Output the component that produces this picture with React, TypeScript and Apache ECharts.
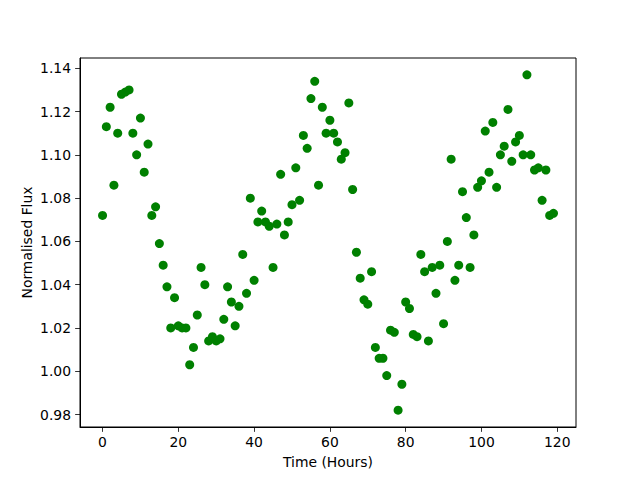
import React, { useEffect, useRef } from "react";
import * as echarts from "echarts";

const hours: number[] = Array.from({ length: 120 }, (_, i) => i);
const flux: number[] = [
  1.072, 1.113, 1.122, 1.086, 1.110, 1.128, 1.129, 1.130, 1.110, 1.100,
  1.117, 1.092, 1.105, 1.072, 1.076, 1.059, 1.049, 1.039, 1.020, 1.034,
  1.021, 1.020, 1.020, 1.003, 1.011, 1.026, 1.048, 1.040, 1.014, 1.016,
  1.014, 1.015, 1.024, 1.039, 1.032, 1.021, 1.030, 1.054, 1.036, 1.080,
  1.042, 1.069, 1.074, 1.069, 1.067, 1.048, 1.068, 1.091, 1.063, 1.069,
  1.077, 1.094, 1.079, 1.109, 1.103, 1.126, 1.134, 1.086, 1.122, 1.110,
  1.116, 1.110, 1.106, 1.098, 1.101, 1.124, 1.084, 1.055, 1.043, 1.033,
  1.031, 1.046, 1.011, 1.006, 1.006, 0.998, 1.019, 1.018, 0.982, 0.994,
  1.032, 1.029, 1.017, 1.016, 1.054, 1.046, 1.014, 1.048, 1.036, 1.049,
  1.022, 1.060, 1.098, 1.042, 1.049, 1.083, 1.071, 1.048, 1.063, 1.085,
  1.088, 1.111, 1.092, 1.115, 1.085, 1.100, 1.104, 1.121, 1.097, 1.106,
  1.109, 1.100, 1.137, 1.100, 1.093, 1.094, 1.079, 1.093, 1.072, 1.073,
];
const xTicks: number[] = [0, 20, 40, 60, 80, 100, 120];
const yTicks: number[] = [0.98, 1.0, 1.02, 1.04, 1.06, 1.08, 1.1, 1.12, 1.14];

const FONT = "DejaVu Sans";
const FS = 13.9;

export default function App() {
  const ref = useRef<HTMLDivElement>(null);
  useEffect(() => {
    if (!ref.current) return;
    const chart = echarts.init(ref.current, undefined, { renderer: "svg" });
    const data = hours.map((h, i) => [h, flux[i]]);
    chart.setOption({
      animation: false,
      backgroundColor: "#ffffff",
      grid: {
        left: 80,
        right: 64,
        top: 58,
        bottom: 53,
        show: true,
        borderColor: "#000",
        borderWidth: 1,
        containLabel: false,
      },
      xAxis: {
        type: "value",
        min: -5.95,
        max: 124.95,
        name: "Time (Hours)",
        nameLocation: "middle",
        nameGap: 28,
        nameMoveOverlap: false,
        nameTextStyle: { fontFamily: FONT, fontSize: FS, color: "#000" },
        axisLine: { show: true, onZero: false, lineStyle: { color: "#000", width: 1 } },
        axisTick: {
          show: true,
          length: 4.86,
          customValues: xTicks,
          lineStyle: { color: "#000", width: 0.8 },
        },
        axisLabel: {
          customValues: xTicks,
          margin: 8,
          fontFamily: FONT,
          fontSize: FS,
          color: "#000",
        },
        splitLine: { show: false },
      },
      yAxis: {
        type: "value",
        min: 0.97424,
        max: 1.14476,
        name: "Normalised Flux",
        nameLocation: "middle",
        nameGap: 46,
        nameMoveOverlap: false,
        nameRotate: 90,
        nameTextStyle: { fontFamily: FONT, fontSize: FS, color: "#000" },
        axisLine: { show: true, onZero: false, lineStyle: { color: "#000", width: 1 } },
        axisTick: {
          show: true,
          length: 4.86,
          customValues: yTicks,
          lineStyle: { color: "#000", width: 0.8 },
        },
        axisLabel: {
          customValues: yTicks,
          margin: 9,
          fontFamily: FONT,
          fontSize: FS,
          color: "#000",
          formatter: (v: number) => v.toFixed(2),
        },
        splitLine: { show: false },
      },
      series: [
        {
          type: "scatter",
          data,
          symbol: "circle",
          symbolSize: 9,
          itemStyle: { color: "#008000", opacity: 1 },
        },
      ],
    });
    return () => chart.dispose();
  }, []);
  return (
    <div
      ref={ref}
      style={{ position: "fixed", left: 0, top: 0, width: 640, height: 480 }}
    />
  );
}
